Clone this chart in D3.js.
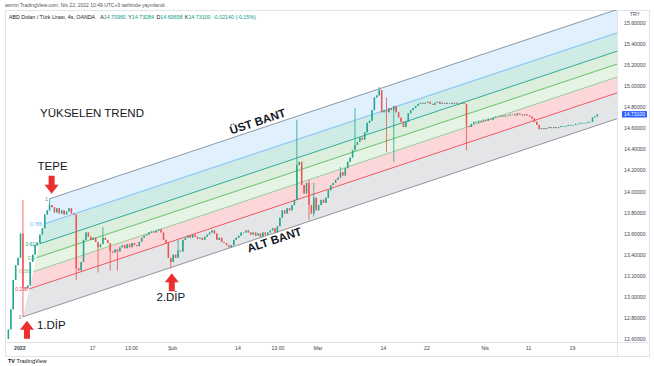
<!DOCTYPE html>
<meta charset="utf-8">
<style>
body { margin: 0; background: #fff; }
svg { display: block; font-family: "Liberation Sans", Arial, sans-serif; }
.note { font-size: 11.5px; fill: #131722; }
.bant { font-size: 11.5px; font-weight: bold; fill: #131722; }
.axis text { font-size: 5.2px; fill: #434651; font-family: "Liberation Sans", Arial, sans-serif; }
.axis path { display: none; }
.frame { fill: none; stroke: #e0e3eb; stroke-width: 1; }
</style>
<svg width="654" height="366"></svg>
<script src="https://d3js.org/d3.v7.min.js"></script>
<script>

// 8h bars, day 0 = 3 Ocak 2022 (trading days only)
var startDay = -1.5
var barDays = 1 / 3
var firstOpen = 12.60

var closes = [
  12.69, 12.88, 13.16, 13.30, 13.37, 13.60, 13.09, 13.08, 13.11, 13.33,
  13.40, 13.49, 13.51, 13.59, 13.65, 13.78, 13.82, 13.87, 13.85, 13.80,
  13.84, 13.79, 13.82, 13.78, 13.81, 13.84, 13.79, 13.78, 13.27, 13.25,
  13.33, 13.54, 13.61, 13.57, 13.54, 13.56, 13.52, 13.47, 13.50, 13.56,
  13.54, 13.51, 13.43, 13.42, 13.45, 13.43, 13.47, 13.49, 13.46, 13.50,
  13.47, 13.51, 13.49, 13.48, 13.52, 13.56, 13.58, 13.59, 13.61, 13.62,
  13.61, 13.63, 13.64, 13.61, 13.54, 13.51, 13.37, 13.33, 13.40, 13.37,
  13.44, 13.43, 13.54, 13.56, 13.58, 13.56, 13.59, 13.57, 13.55, 13.56,
  13.54, 13.57, 13.59, 13.61, 13.63, 13.60, 13.54, 13.56, 13.52, 13.51,
  13.49, 13.47, 13.49, 13.54, 13.56, 13.58, 13.61, 13.61, 13.63, 13.61,
  13.59, 13.61, 13.58, 13.60, 13.57, 13.61, 13.59, 13.61, 13.63, 13.65,
  13.61, 13.67, 13.75, 13.82, 13.79, 13.84, 13.82, 13.87, 13.92, 14.25,
  14.28, 14.06, 13.98, 14.08, 13.87, 13.79, 13.94, 13.82, 13.87, 13.92,
  13.89, 13.94, 14.01, 14.06, 14.08, 14.11, 14.13, 14.18, 14.15, 14.22,
  14.28, 14.32, 14.39, 14.44, 14.47, 14.51, 14.49, 14.56, 14.65, 14.67,
  14.77, 14.89, 14.91, 14.96, 14.75, 14.77, 14.75, 14.79, 14.77, 14.81,
  14.75, 14.70, 14.66, 14.61, 14.66, 14.74, 14.77, 14.79, 14.81, 14.83,
  14.84, 14.83, 14.84, 14.85, 14.83, 14.82, 14.84, 14.85, 14.83, 14.84,
  14.83, 14.84, 14.84, 14.83, 14.84, 14.83, 14.83, 14.84, 14.83, 14.62,
  14.61, 14.64, 14.66, 14.65, 14.67, 14.66, 14.68, 14.67, 14.69, 14.68,
  14.70, 14.71, 14.71, 14.72, 14.71, 14.72, 14.72, 14.73, 14.73, 14.72,
  14.74, 14.73, 14.72, 14.73, 14.72, 14.71, 14.69, 14.66, 14.63, 14.59,
  14.60, 14.59, 14.60, 14.61, 14.60, 14.61, 14.60, 14.61, 14.62, 14.62,
  14.62, 14.63, 14.63, 14.63, 14.64, 14.64, 14.65, 14.65, 14.65, 14.66,
  14.66, 14.70, 14.71, 14.73
]

// [bar index, high, low] for the long wicks
var wicks = [
  [6, 13.92, 12.81], [17, 13.93, null], [28, null, 13.16], [37, null, 13.23],
  [39, 13.66, null], [42, null, 13.25], [45, null, 13.25], [67, null, 13.27],
  [70, 13.54, null], [119, 14.68, null], [124, 14.11, 13.73], [126, 14.08, 13.76],
  [137, 14.23, null], [143, 14.79, null], [153, 14.99, null], [156, 14.89, 14.37],
  [159, null, 14.28], [189, null, 14.39]
]

var priceTicks = [12.6, 12.8, 13.0, 13.2, 13.4, 13.6, 13.8, 14.0, 14.2, 14.4, 14.6, 14.8, 15.0, 15.2, 15.4, 15.6]
var dateTicks = [0, 10, 15.36, 21, 30, 35.5, 41, 50, 56, 64, 70, 76]
var dateLabels = ["2022", "17", "13:00", "Şub", "14", "13:00", "Mar", "14", "22", "Nis", "11", "19"]

// fib channel: 1.DİP, TEPE and slope (price per day)
var dipPoint = [0.5, 12.81]
var topPoint = [4.17, 13.93]
var channelSlope = 0.0230
var fibLevels = [0, 0.236, 0.382, 0.5, 0.618, 0.786, 1]
var fibColors = ["#787b86", "#f23645", "#81c784", "#4caf50", "#089981", "#64b5f6", "#787b86"]

var lastPrice = 14.731
var ohlcNames = ["A", "Y", "D", "K"]
var ohlcValues = ["14.70960", "14.73284", "14.69658", "14.73100"]
var change = "-0.02140 (-0.15%)"

var svg = d3.select("svg")
var plotL = 6, plotR = 617, plotT = 10, plotB = 342

var x = d3.scaleLinear().domain([-1.83, 82.2]).range([plotL, plotR])
var y = d3.scaleLinear().domain([12.581, 15.72]).range([plotB - 1, plotT])

var bars = closes.map(function(c, i) {
  var o = i ? closes[i - 1] : firstOpen
  return {day: startDay + i * barDays, o: o, c: c, h: Math.max(o, c), l: Math.min(o, c)}
})
wicks.forEach(function(w) {
  var b = bars[w[0]]
  if (w[1] != null) b.h = Math.max(b.h, w[1])
  if (w[2] != null) b.l = Math.min(b.l, w[2])
})

var defs = svg.append("defs")
defs.append("clipPath").attr("id", "plot")
  .append("rect").attr("x", plotL).attr("y", plotT).attr("width", plotR - plotL).attr("height", plotB - plotT)
defs.append("clipPath").attr("id", "yax")
  .append("rect").attr("x", 0).attr("y", plotT).attr("width", 40).attr("height", plotB - plotT)

// frame
svg.append("text").attr("x", 5).attr("y", 7).style("font-size", "5px").style("fill", "#555")
  .text("asmm TradingView.com, Nis 22, 2022 10:49 UTC+3 tarihinde yayınlandı")
svg.append("rect").attr("class", "frame").attr("x", 5.5).attr("y", 10.5).attr("width", 644).attr("height", 346)
svg.append("line").attr("class", "frame").attr("x1", plotR + 0.5).attr("x2", plotR + 0.5).attr("y1", 10).attr("y2", 357)
svg.append("line").attr("class", "frame").attr("x1", 5).attr("x2", 650).attr("y1", plotB + 0.5).attr("y2", plotB + 0.5)

var plot = svg.append("g").attr("clip-path", "url(#plot)")

function chanStart(L) {
  return [dipPoint[0] + L * (topPoint[0] - dipPoint[0]), dipPoint[1] + L * (topPoint[1] - dipPoint[1])]
}
function chanPrice(L, d) {
  var s = chanStart(L)
  return s[1] + channelSlope * (d - s[0])
}
var dEnd = x.domain()[1]
var line = d3.line().x(function(p) { return x(p[0]) }).y(function(p) { return y(p[1]) })

// bands take the colour of their lower level
plot.selectAll(".fib-band").data(fibLevels.slice(0, -1)).enter().append("path")
  .attr("class", "fib-band")
  .attr("d", function(L, i) {
    var L2 = fibLevels[i + 1]
    return line([chanStart(L), [dEnd, chanPrice(L, dEnd)], [dEnd, chanPrice(L2, dEnd)], chanStart(L2)]) + "Z"
  })
  .attr("fill", function(L, i) { return fibColors[i] })
  .attr("fill-opacity", 0.2)

plot.selectAll(".fib-line").data(fibLevels).enter().append("path")
  .attr("class", "fib-line")
  .attr("d", function(L) { return line([chanStart(L), [dEnd, chanPrice(L, dEnd)]]) })
  .attr("stroke", function(L, i) { return fibColors[i] })
  .attr("stroke-width", 0.8)
  .attr("fill", "none")

plot.selectAll(".fib-label").data(fibLevels).enter().append("text")
  .attr("class", "fib-label")
  .attr("x", function(L) { return x(chanStart(L)[0]) - 1.5 })
  .attr("y", function(L) { return y(chanStart(L)[1]) })
  .attr("dy", "0.35em")
  .attr("text-anchor", "end")
  .style("font-size", "5px")
  .style("fill", function(L, i) { return fibColors[i] })
  .text(function(L) { return L })

// candles
var bw = 1.5
var candle = plot.selectAll(".candle").data(bars).enter().append("g").attr("class", "candle")
  .attr("fill", function(b) { return b.c >= b.o ? "#22a68f" : "#ef5350" })
  .attr("stroke", function(b) { return b.c >= b.o ? "#22a68f" : "#ef5350" })
candle.append("line")
  .attr("x1", function(b) { return x(b.day) }).attr("x2", function(b) { return x(b.day) })
  .attr("y1", function(b) { return y(b.h) }).attr("y2", function(b) { return y(b.l) })
  .attr("stroke-width", 0.8)
candle.append("rect")
  .attr("x", function(b) { return x(b.day) - bw / 2 })
  .attr("width", bw)
  .attr("y", function(b) { return y(Math.max(b.o, b.c)) })
  .attr("height", function(b) { return Math.max(0.8, Math.abs(y(b.o) - y(b.c))) })
  .attr("stroke", "none")

// annotations
var arrowPath = "M-3,-18H3V-9H7L0,0L-7,-9H-3Z"
var red = "#eb2f2f"
var tepe = bars[17], dip1 = bars[6], dip2 = bars[67]

plot.append("path").attr("d", arrowPath).attr("fill", red)
  .attr("transform", "translate(" + (x(tepe.day) + 2) + "," + (y(tepe.h) - 5) + ")")
plot.append("text").attr("class", "note").attr("text-anchor", "middle")
  .attr("x", x(tepe.day) + 3).attr("y", y(tepe.h) - 29).text("TEPE")

plot.append("path").attr("d", arrowPath).attr("fill", red)
  .attr("transform", "translate(" + (x(dip2.day) + 1) + "," + (y(dip2.l) + 5) + ") rotate(180)")
plot.append("text").attr("class", "note").attr("text-anchor", "middle")
  .attr("x", x(dip2.day)).attr("y", y(dip2.l) + 33).text("2.DİP")

plot.append("path").attr("d", arrowPath).attr("fill", red)
  .attr("transform", "translate(" + (x(dip1.day) + 4) + "," + (y(dip1.l) + 4) + ") rotate(180)")
plot.append("text").attr("class", "note")
  .attr("x", x(dip1.day) + 14).attr("y", y(dip1.l) + 12).text("1.DİP")

plot.append("text").attr("class", "note").attr("x", 40).attr("y", 117).text("YÜKSELEN TREND")

var ang = Math.atan2(y(chanPrice(0, 40)) - y(chanPrice(0, 20)), x(40) - x(20)) * 180 / Math.PI
plot.append("text").attr("class", "bant").attr("text-anchor", "middle")
  .attr("transform", "translate(" + x(33.1) + "," + y(chanPrice(1, 33.1)) + ") rotate(" + ang + ")")
  .attr("y", -3.5).text("ÜST BANT")
plot.append("text").attr("class", "bant").attr("text-anchor", "middle")
  .attr("transform", "translate(" + x(34.8) + "," + y(chanPrice(0, 34.8)) + ") rotate(" + ang + ")")
  .attr("y", 10.5).text("ALT BANT")

// title line
var title = svg.append("text").attr("x", 9).attr("y", 19).style("font-size", "5.3px").style("fill", "#131722")
title.append("tspan").text("ABD Doları / Türk Lirası, 4s, OANDA")
ohlcNames.forEach(function(n, i) {
  title.append("tspan").attr("dx", i ? 2.5 : 5).text(n)
  title.append("tspan").style("fill", "#089981").text(ohlcValues[i])
})
title.append("tspan").attr("dx", 2.5).style("fill", "#089981").text(change)

// axes
var yAxis = svg.append("g").attr("class", "axis")
  .attr("transform", "translate(" + plotR + ",0)")
  .attr("clip-path", "url(#yax)")
  .call(d3.axisRight(y).tickValues(priceTicks).tickFormat(d3.format(".5f")).tickSize(0).tickPadding(7))
svg.append("text").attr("x", 635).attr("y", 16).attr("text-anchor", "middle")
  .style("font-size", "5px").style("fill", "#434651").text("TRY")

var pl = svg.append("g").attr("transform", "translate(622," + y(lastPrice) + ")")
pl.append("rect").attr("x", 0).attr("y", -3.2).attr("width", 25).attr("height", 6.4).attr("fill", "#2962ff")
pl.append("text").attr("x", 12.5).attr("dy", "0.35em").attr("text-anchor", "middle")
  .style("font-size", "5px").style("fill", "#fff").text(d3.format(".5f")(lastPrice))

var xAxis = svg.append("g").attr("class", "axis")
  .attr("transform", "translate(0," + plotB + ")")
  .call(d3.axisBottom(x).tickValues(dateTicks).tickFormat(function(d, i) { return dateLabels[i] }).tickSize(0).tickPadding(4.5))
xAxis.selectAll("text").filter(function(d, i) { return i === 0 }).style("font-weight", "bold")

// logo
var logo = svg.append("text").attr("x", 8).attr("y", 363).style("font-size", "5.5px").style("fill", "#131722")
logo.append("tspan").style("font-weight", "bold").text("TV")
logo.append("tspan").attr("dx", 1.5).text("TradingView")

</script>
